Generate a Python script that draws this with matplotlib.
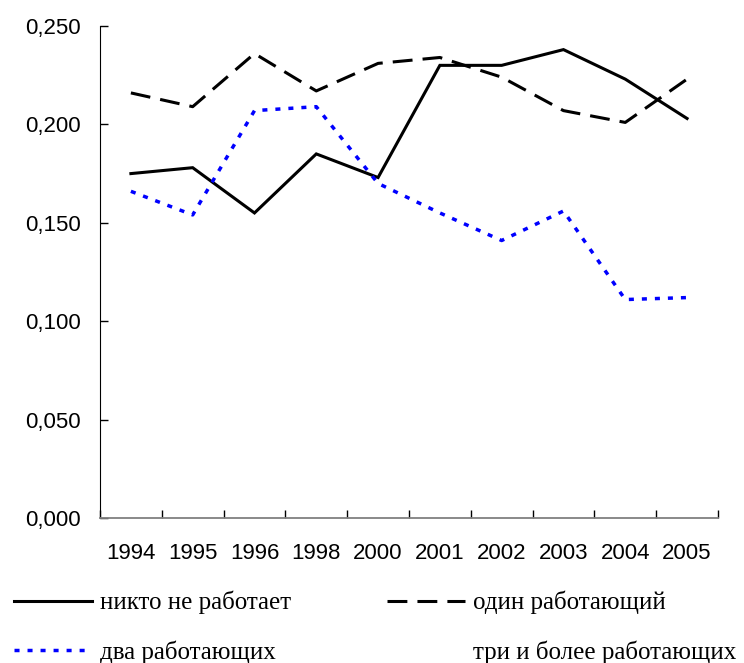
import numpy as np
import matplotlib
matplotlib.use('Agg')
import matplotlib.pyplot as plt
from matplotlib.lines import Line2D
from matplotlib.ticker import FuncFormatter

# data
years = ["1994", "1995", "1996", "1998", "2000", "2001", "2002", "2003", "2004", "2005"]
nobody_works = [0.175, 0.178, 0.155, 0.185, 0.173, 0.230, 0.230, 0.238, 0.223, 0.203]
one_works = [0.216, 0.209, 0.236, 0.217, 0.231, 0.234, 0.224, 0.207, 0.201, 0.223]
two_work = [0.166, 0.154, 0.207, 0.209, 0.170, 0.155, 0.141, 0.156, 0.111, 0.112]
series_names = ["никто не работает", "один работающий", "два работающих", "три и более работающих"]

fig = plt.figure(figsize=(7.44, 6.63), dpi=100)
ax = fig.add_axes([0.1344, 0.2187, 0.8306, 0.7421])

x = np.arange(len(years))
l1, = ax.plot(x, nobody_works, color='black', lw=2.2, solid_joinstyle='miter')
l2, = ax.plot(x, one_works, color='black', lw=2.2, dashes=(6.5, 3.3))
l3, = ax.plot(x, two_work, color='blue', lw=2.5, dashes=(1.45, 2.3))
l4 = Line2D([], [], color='none')  # no line drawn for this series

ax.set_xlim(-0.5, len(years) - 0.5)
ax.set_ylim(0, 0.25)
ax.set_yticks(np.arange(0, 0.251, 0.05))
ax.yaxis.set_major_formatter(FuncFormatter(lambda v, p: f"{v:.3f}".replace('.', ',')))
ax.set_xticks(x)
ax.set_xticklabels(years)
ax.set_xticks(np.arange(-0.5, len(years)), minor=True)

for s in ['top', 'right']:
    ax.spines[s].set_visible(False)
ax.spines['left'].set_color('black')
ax.spines['bottom'].set_color('#808080')
ax.spines['bottom'].set_linewidth(1.3)

ax.tick_params(axis='y', direction='in', length=6, width=1, labelsize=16, pad=13.5)
ax.tick_params(axis='x', which='major', length=0, labelsize=16, pad=18)
ax.tick_params(axis='x', which='minor', direction='in', length=6, width=1, color='black')
for lab in ax.get_xticklabels() + ax.get_yticklabels():
    lab.set_family('Liberation Sans')

fig.legend([l1, l3, l2, l4], [series_names[0], series_names[2], series_names[1], series_names[3]],
           ncol=2, loc='upper left', bbox_to_anchor=(0.005, 0.124),
           frameon=False, prop={'family': 'Liberation Serif', 'size': 18},
           handlelength=3.15, handletextpad=0.32, columnspacing=3.8, labelspacing=1.03,
           borderaxespad=0)

fig.savefig('out.png', dpi=100)
